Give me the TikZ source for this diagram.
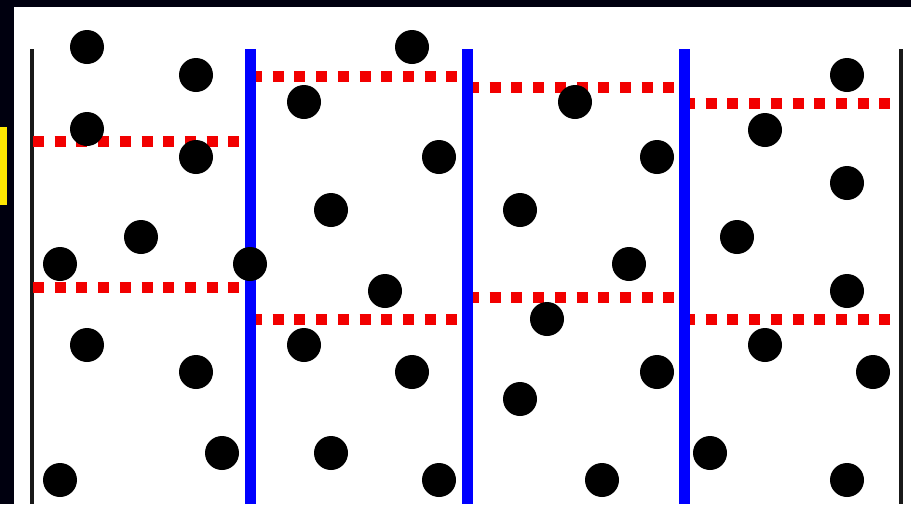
\documentclass[tikz,border=0pt]{standalone}
\begin{document}
\begin{tikzpicture}[x=1pt,y=-1pt,
  dot/.style={circle,fill=black,inner sep=0pt,minimum size=34pt},
  wall/.style={line width=4pt,black!90},
  divider/.style={line width=11pt,blue},
  cut/.style={line width=11pt,red!95!black,dash pattern=on 11pt off 10.7pt}]
\useasboundingbox (0,0) rectangle (911,504);
\fill[black!85!blue!40!black] (0,0) rectangle (911,504);
\fill[white] (14,7) rectangle (911,504);
\fill[yellow!90!orange] (0,127) rectangle (7,205);
% walls
\draw[wall] (32,49) -- (32,504);
\draw[wall] (901,49) -- (901,504);
% red cuts
\draw[cut] (33,141) -- (242,141);
\draw[cut] (33,287) -- (242,287);
\draw[cut] (251,76) -- (460,76);
\draw[cut] (251,319) -- (460,319);
\draw[cut] (468,87) -- (677,87);
\draw[cut] (468,297) -- (677,297);
\draw[cut] (684,103) -- (893,103);
\draw[cut] (684,319) -- (893,319);
% blue dividers
\draw[divider] (250,49) -- (250,504);
\draw[divider] (467,49) -- (467,504);
\draw[divider] (684,49) -- (684,504);
% dots
\foreach \n/\x/\y in {
 a1/87/47, a2/196/75, a3/412/47, a4/304/102, a5/575/102, a6/847/75,
 b1/87/129, b2/196/157, b3/439/157, b4/657/157, b5/765/130,
 c1/331/210, c2/520/210, c3/847/183, c4/141/237, c5/737/237,
 d1/60/264, d2/250/264, d3/629/264, d4/385/291, d5/847/291, d6/547/319,
 e1/87/345, e2/304/345, e3/765/345, e4/196/372, e5/412/372, e6/657/372, e7/873/372,
 f1/520/399, f2/222/453, f3/331/453, f4/710/453,
 g1/60/480, g2/439/480, g3/602/480, g4/847/480}
 \node[dot] (\n) at (\x,\y) {};
\end{tikzpicture}
\end{document}
